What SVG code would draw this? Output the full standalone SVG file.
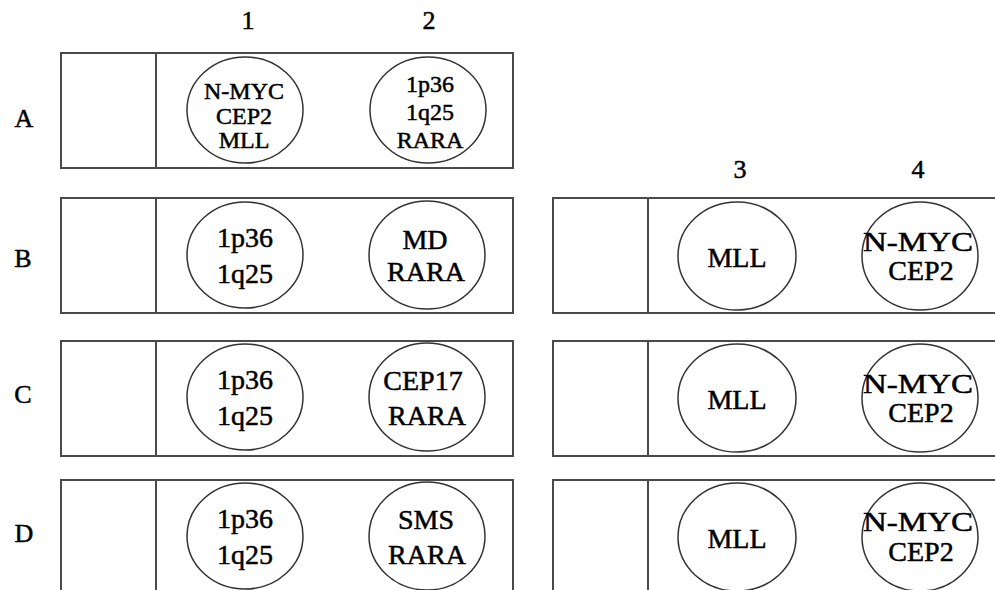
<svg xmlns="http://www.w3.org/2000/svg" width="995" height="590" viewBox="0 0 995 590">
<style>
.box{fill:none;stroke:#4a4a4a;stroke-width:2}
.div{stroke:#4a4a4a;stroke-width:2}
.cell{fill:#fff;stroke:#333;stroke-width:1.5}
text{fill:#000;text-anchor:middle;stroke:#000;stroke-width:0.5}
.t{font-size:28px}
.s{font-size:24px}
.lab{font-size:26px}
</style>
<rect width="995" height="590" fill="#fff"/>
<g font-family="'Liberation Serif', 'DejaVu Serif', serif">
<g id="labels">
<text class="lab" x="248" y="29">1</text>
<text class="lab" x="429" y="29">2</text>
<text class="lab" x="740" y="178">3</text>
<text class="lab" x="918" y="178">4</text>
<text class="lab" x="24" y="127">A</text>
<text class="lab" x="23" y="267">B</text>
<text class="lab" x="23" y="403">C</text>
<text class="lab" x="24" y="542">D</text>
</g>
<g id="rowA">
<rect class="box" x="61" y="53" width="452" height="115"/>
<line class="div" x1="156" y1="53" x2="156" y2="168"/>
<g id="A1"><ellipse class="cell" cx="245" cy="110" rx="58" ry="53"/>
<text class="s" x="244" y="99">N-MYC</text><text class="s" x="244" y="124">CEP2</text><text class="s" x="244" y="148">MLL</text></g>
<g id="A2"><ellipse class="cell" cx="428" cy="110" rx="58" ry="53"/>
<text class="s" x="430" y="92">1p36</text><text class="s" x="430" y="120">1q25</text><text class="s" x="430" y="148">RARA</text></g>
</g>
<g id="rowB">
<rect class="box" x="61" y="198" width="452" height="115"/>
<line class="div" x1="156" y1="198" x2="156" y2="313"/>
<g id="B1"><ellipse class="cell" cx="245" cy="255" rx="58" ry="53"/>
<text class="t" x="245" y="247">1p36</text><text class="t" x="245" y="283">1q25</text></g>
<g id="B2"><ellipse class="cell" cx="427" cy="255" rx="58" ry="54"/>
<text class="t" x="425" y="249">MD</text><text class="t" x="426" y="281">RARA</text></g>
<rect class="box" x="553" y="198" width="460" height="115"/>
<line class="div" x1="648" y1="198" x2="648" y2="313"/>
<g id="B3"><ellipse class="cell" cx="737" cy="256" rx="59" ry="54"/>
<text class="t" x="737" y="267">MLL</text></g>
<g id="B4"><ellipse class="cell" cx="920" cy="256" rx="58" ry="54"/>
<text class="t" x="918" y="251" textLength="110" lengthAdjust="spacingAndGlyphs">N-MYC</text><text class="t" x="921" y="280">CEP2</text></g>
</g>
<g id="rowC">
<rect class="box" x="61" y="341" width="452" height="115"/>
<line class="div" x1="156" y1="341" x2="156" y2="456"/>
<g id="C1"><ellipse class="cell" cx="245" cy="397" rx="58" ry="53"/>
<text class="t" x="245" y="389">1p36</text><text class="t" x="245" y="425">1q25</text></g>
<g id="C2"><ellipse class="cell" cx="427" cy="397" rx="58" ry="54"/>
<text class="t" x="423" y="390">CEP17</text><text class="t" x="427" y="425">RARA</text></g>
<rect class="box" x="553" y="341" width="460" height="115"/>
<line class="div" x1="648" y1="341" x2="648" y2="456"/>
<g id="C3"><ellipse class="cell" cx="737" cy="398" rx="59" ry="54"/>
<text class="t" x="737" y="409">MLL</text></g>
<g id="C4"><ellipse class="cell" cx="920" cy="398" rx="58" ry="54"/>
<text class="t" x="918" y="393" textLength="110" lengthAdjust="spacingAndGlyphs">N-MYC</text><text class="t" x="921" y="422">CEP2</text></g>
</g>
<g id="rowD">
<rect class="box" x="61" y="480" width="452" height="130"/>
<line class="div" x1="156" y1="480" x2="156" y2="590"/>
<g id="D1"><ellipse class="cell" cx="245" cy="536" rx="58" ry="53"/>
<text class="t" x="245" y="528">1p36</text><text class="t" x="245" y="564">1q25</text></g>
<g id="D2"><ellipse class="cell" cx="427" cy="536" rx="58" ry="54"/>
<text class="t" x="426" y="529">SMS</text><text class="t" x="427" y="564">RARA</text></g>
<rect class="box" x="553" y="480" width="460" height="130"/>
<line class="div" x1="648" y1="480" x2="648" y2="590"/>
<g id="D3"><ellipse class="cell" cx="737" cy="537" rx="59" ry="54"/>
<text class="t" x="737" y="548">MLL</text></g>
<g id="D4"><ellipse class="cell" cx="920" cy="537" rx="58" ry="54"/>
<text class="t" x="918" y="531" textLength="110" lengthAdjust="spacingAndGlyphs">N-MYC</text><text class="t" x="921" y="561">CEP2</text></g>
</g>
</g>
<g id="connectors"/>
</svg>
